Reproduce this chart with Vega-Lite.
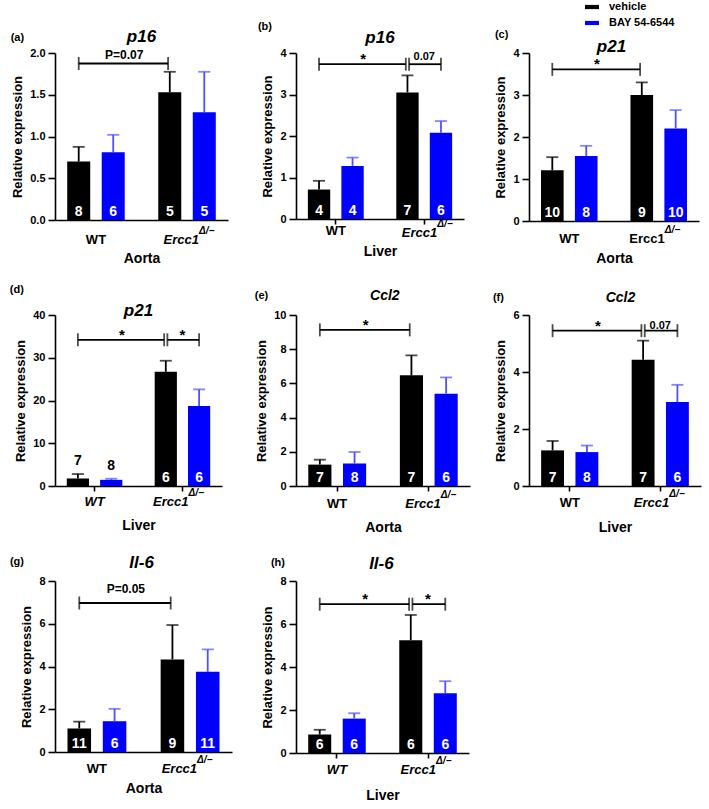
{
"$schema": "https://vega.github.io/schema/vega-lite/v6.json",
"padding": {"left": 9, "top": 0, "right": 3, "bottom": 3},
"columns": 3,
"spacing": {"row": 19, "column": 22},
"resolve": {"scale": {"x": "independent", "y": "independent", "xOffset": "independent"}},
"datasets": {
"bars": [
{"panel":"a","group":"WT","trt":"vehicle","mean":0.70,"hi":0.876,"n":8},
{"panel":"a","group":"WT","trt":"BAY 54-6544","mean":0.81,"hi":1.02,"n":6},
{"panel":"a","group":"Ercc1","trt":"vehicle","mean":1.53,"hi":1.775,"n":5},
{"panel":"a","group":"Ercc1","trt":"BAY 54-6544","mean":1.29,"hi":1.775,"n":5},
{"panel":"b","group":"WT","trt":"vehicle","mean":0.71,"hi":0.92,"n":4},
{"panel":"b","group":"WT","trt":"BAY 54-6544","mean":1.28,"hi":1.48,"n":4},
{"panel":"b","group":"Ercc1","trt":"vehicle","mean":3.05,"hi":3.46,"n":7},
{"panel":"b","group":"Ercc1","trt":"BAY 54-6544","mean":2.08,"hi":2.36,"n":6},
{"panel":"c","group":"WT","trt":"vehicle","mean":1.21,"hi":1.52,"n":10},
{"panel":"c","group":"WT","trt":"BAY 54-6544","mean":1.55,"hi":1.79,"n":8},
{"panel":"c","group":"Ercc1","trt":"vehicle","mean":3.0,"hi":3.3,"n":9},
{"panel":"c","group":"Ercc1","trt":"BAY 54-6544","mean":2.2,"hi":2.64,"n":10},
{"panel":"d","group":"WT","trt":"vehicle","mean":1.76,"hi":2.8,"n":7},
{"panel":"d","group":"WT","trt":"BAY 54-6544","mean":1.44,"hi":1.7,"n":8},
{"panel":"d","group":"Ercc1","trt":"vehicle","mean":26.7,"hi":29.3,"n":6},
{"panel":"d","group":"Ercc1","trt":"BAY 54-6544","mean":18.7,"hi":22.6,"n":6},
{"panel":"e","group":"WT","trt":"vehicle","mean":1.25,"hi":1.54,"n":7},
{"panel":"e","group":"WT","trt":"BAY 54-6544","mean":1.31,"hi":1.99,"n":8},
{"panel":"e","group":"Ercc1","trt":"vehicle","mean":6.47,"hi":7.64,"n":7},
{"panel":"e","group":"Ercc1","trt":"BAY 54-6544","mean":5.4,"hi":6.35,"n":6},
{"panel":"f","group":"WT","trt":"vehicle","mean":1.25,"hi":1.58,"n":7},
{"panel":"f","group":"WT","trt":"BAY 54-6544","mean":1.19,"hi":1.42,"n":8},
{"panel":"f","group":"Ercc1","trt":"vehicle","mean":4.43,"hi":5.1,"n":7},
{"panel":"f","group":"Ercc1","trt":"BAY 54-6544","mean":2.95,"hi":3.55,"n":6},
{"panel":"g","group":"WT","trt":"vehicle","mean":1.1,"hi":1.42,"n":11},
{"panel":"g","group":"WT","trt":"BAY 54-6544","mean":1.44,"hi":2.02,"n":6},
{"panel":"g","group":"Ercc1","trt":"vehicle","mean":4.33,"hi":5.94,"n":9},
{"panel":"g","group":"Ercc1","trt":"BAY 54-6544","mean":3.75,"hi":4.8,"n":11},
{"panel":"h","group":"WT","trt":"vehicle","mean":0.86,"hi":1.08,"n":6},
{"panel":"h","group":"WT","trt":"BAY 54-6544","mean":1.6,"hi":1.85,"n":6},
{"panel":"h","group":"Ercc1","trt":"vehicle","mean":5.25,"hi":6.42,"n":6},
{"panel":"h","group":"Ercc1","trt":"BAY 54-6544","mean":2.78,"hi":3.34,"n":6}
],
"brackets": [
{"panel":"a","type":"A","g1":"WT","g2":"Ercc1","y":1.874,"label":"P=0.07"},
{"panel":"b","type":"A","g1":"WT","g2":"Ercc1","y":3.73,"label":"*"},
{"panel":"b","type":"B","g1":"Ercc1","g2":"Ercc1","y":3.73,"label":"0.07"},
{"panel":"c","type":"A","g1":"WT","g2":"Ercc1","y":3.61,"label":"*"},
{"panel":"d","type":"A","g1":"WT","g2":"Ercc1","y":34.2,"label":"*"},
{"panel":"d","type":"B","g1":"Ercc1","g2":"Ercc1","y":34.2,"label":"*"},
{"panel":"e","type":"A","g1":"WT","g2":"Ercc1","y":9.13,"label":"*"},
{"panel":"f","type":"A","g1":"WT","g2":"Ercc1","y":5.45,"label":"*"},
{"panel":"f","type":"B","g1":"Ercc1","g2":"Ercc1","y":5.45,"label":"0.07"},
{"panel":"g","type":"A","g1":"WT","g2":"Ercc1","y":6.97,"label":"P=0.05"},
{"panel":"h","type":"A","g1":"WT","g2":"Ercc1","y":6.92,"label":"*"},
{"panel":"h","type":"B","g1":"Ercc1","g2":"Ercc1","y":6.92,"label":"*"}
]
},
"concat": [
{
"width": 173, "height": 167,
"title": {"text": "(a)", "anchor": "start", "frame": "bounds", "fontSize": 11, "dx": -1, "offset": -15},
"layer": [
{"data":{"name":"bars"},"transform":[{"filter":"datum.panel=='a'"}],"mark":{"type":"bar"},"encoding":{"x":{"field":"group","type":"nominal","scale":{"domain":["WT","Ercc1"],"paddingInner":0.2,"paddingOuter":0.05},"axis":{"title":"Aorta","titlePadding":31,"ticks":false}},"xOffset":{"field":"trt","type":"nominal","scale":{"domain":["vehicle","BAY 54-6544"],"paddingInner":0.333,"paddingOuter":0.222}},"y":{"field":"mean","type":"quantitative","scale":{"domain":[0,2],"nice":false},"axis":{"title":"Relative expression","values":[0,0.5,1,1.5,2],"tickCount":10,"format":".1f","labelOverlap":false}},"color":{"field":"trt","type":"nominal","scale":{"domain":["vehicle","BAY 54-6544"],"range":["#000000","#0000ff"]},"legend":{"title":null}}}},
{"data":{"name":"bars"},"transform":[{"filter":"datum.panel=='a'"}],"mark":{"type":"rule","strokeWidth":1.8},"encoding":{"x":{"field":"group","type":"nominal"},"xOffset":{"field":"trt","type":"nominal"},"y":{"field":"mean","type":"quantitative"},"y2":{"field":"hi"},"color":{"condition":{"test":"datum.trt=='vehicle'","value":"#000000"},"value":"#5050ff"}}},
{"data":{"name":"bars"},"transform":[{"filter":"datum.panel=='a'"}],"mark":{"type":"tick","thickness":1.8,"size":12},"encoding":{"x":{"field":"group","type":"nominal"},"xOffset":{"field":"trt","type":"nominal"},"y":{"field":"hi","type":"quantitative"},"color":{"condition":{"test":"datum.trt=='vehicle'","value":"#000000"},"value":"#5050ff"}}},
{"data":{"name":"bars"},"transform":[{"filter":"datum.panel=='a'"}],"mark":{"type":"text","color":"#ffffff","fontSize":14,"fontWeight":"bold","baseline":"alphabetic","dy":-4},"encoding":{"x":{"field":"group","type":"nominal"},"xOffset":{"field":"trt","type":"nominal"},"y":{"datum":0,"type":"quantitative"},"text":{"field":"n","type":"quantitative"}}},
{"data":{"name":"bars"},"transform":[{"filter":"datum.panel=='a' && datum.group=='WT' && datum.trt=='vehicle'"}],"mark":{"type":"text","fontSize":17,"fontWeight":"bold","fontStyle":"italic","baseline":"alphabetic","dy":-11},"encoding":{"x":{"field":"group","type":"nominal","bandPosition":1.125},"y":{"datum":2,"type":"quantitative"},"text":{"value":"p16"}}},
{"data":{"name":"bars"},"transform":[{"filter":"datum.panel=='a' && datum.group=='WT' && datum.trt=='vehicle'"}],"mark":{"type":"text","fontSize":13,"fontWeight":"bold","fontStyle":"normal","baseline":"middle","dy":20},"encoding":{"x":{"field":"group","type":"nominal"},"y":{"datum":0,"type":"quantitative"},"text":{"value":"WT"}}},
{"data":{"name":"bars"},"transform":[{"filter":"datum.panel=='a' && datum.group=='Ercc1' && datum.trt=='vehicle'"}],"mark":{"type":"text","fontSize":13,"fontWeight":"bold","fontStyle":"italic","baseline":"middle","align":"right","dx":12,"dy":20},"encoding":{"x":{"field":"group","type":"nominal"},"y":{"datum":0,"type":"quantitative"},"text":{"value":"Ercc1"}}},
{"data":{"name":"bars"},"transform":[{"filter":"datum.panel=='a' && datum.group=='Ercc1' && datum.trt=='vehicle'"}],"mark":{"type":"text","fontSize":10,"fontWeight":"bold","fontStyle":"italic","baseline":"middle","align":"left","dx":12,"dy":11},"encoding":{"x":{"field":"group","type":"nominal"},"y":{"datum":0,"type":"quantitative"},"text":{"value":"Δ/−"}}},
{"data":{"name":"brackets"},"transform":[{"filter":"datum.panel=='a' && datum.type=='A'"}],"mark":{"type":"rule","strokeWidth":1.8,"color":"#000000"},"encoding":{"x":{"field":"g1","type":"nominal","bandPosition":0.263},"x2":{"field":"g2","bandPosition":0.24},"y":{"field":"y","type":"quantitative"}}},
{"data":{"name":"brackets"},"transform":[{"filter":"datum.panel=='a' && datum.type=='A'"}],"mark":{"type":"tick","orient":"vertical","size":13,"thickness":1.8,"color":"#000000"},"encoding":{"x":{"field":"g1","type":"nominal","bandPosition":0.263},"y":{"field":"y","type":"quantitative"}}},
{"data":{"name":"brackets"},"transform":[{"filter":"datum.panel=='a' && datum.type=='A'"}],"mark":{"type":"tick","orient":"vertical","size":13,"thickness":1.8,"color":"#000000"},"encoding":{"x":{"field":"g2","type":"nominal","bandPosition":0.24},"y":{"field":"y","type":"quantitative"}}},
{"data":{"name":"brackets"},"transform":[{"filter":"datum.panel=='a' && datum.type=='A'"}],"mark":{"type":"text","fontSize":12,"fontWeight":"bold","baseline":"alphabetic","dy":-5},"encoding":{"x":{"field":"g1","type":"nominal","bandPosition":0.888},"y":{"field":"y","type":"quantitative"},"text":{"field":"label"}}}
]
},
{
"width": 168, "height": 166,
"title": {"text": "(b)", "anchor": "start", "frame": "bounds", "fontSize": 11, "dx": -4, "offset": -3},
"layer": [
{"data":{"name":"bars"},"transform":[{"filter":"datum.panel=='b'"}],"mark":{"type":"bar"},"encoding":{"x":{"field":"group","type":"nominal","scale":{"domain":["WT","Ercc1"],"paddingInner":0.2,"paddingOuter":0.05},"axis":{"title":"Liver","titlePadding":20,"ticks":true}},"xOffset":{"field":"trt","type":"nominal","scale":{"domain":["vehicle","BAY 54-6544"],"paddingInner":0.333,"paddingOuter":0.222}},"y":{"field":"mean","type":"quantitative","scale":{"domain":[0,4],"nice":false},"axis":{"title":"Relative expression","values":[0,1,2,3,4],"tickCount":10,"format":"d","labelOverlap":false}},"color":{"field":"trt","type":"nominal","scale":{"domain":["vehicle","BAY 54-6544"],"range":["#000000","#0000ff"]},"legend":{"title":null}}}},
{"data":{"name":"bars"},"transform":[{"filter":"datum.panel=='b'"}],"mark":{"type":"rule","strokeWidth":1.8},"encoding":{"x":{"field":"group","type":"nominal"},"xOffset":{"field":"trt","type":"nominal"},"y":{"field":"mean","type":"quantitative"},"y2":{"field":"hi"},"color":{"condition":{"test":"datum.trt=='vehicle'","value":"#000000"},"value":"#5050ff"}}},
{"data":{"name":"bars"},"transform":[{"filter":"datum.panel=='b'"}],"mark":{"type":"tick","thickness":1.8,"size":12},"encoding":{"x":{"field":"group","type":"nominal"},"xOffset":{"field":"trt","type":"nominal"},"y":{"field":"hi","type":"quantitative"},"color":{"condition":{"test":"datum.trt=='vehicle'","value":"#000000"},"value":"#5050ff"}}},
{"data":{"name":"bars"},"transform":[{"filter":"datum.panel=='b'"}],"mark":{"type":"text","color":"#ffffff","fontSize":14,"fontWeight":"bold","baseline":"alphabetic","dy":-4},"encoding":{"x":{"field":"group","type":"nominal"},"xOffset":{"field":"trt","type":"nominal"},"y":{"datum":0,"type":"quantitative"},"text":{"field":"n","type":"quantitative"}}},
{"data":{"name":"bars"},"transform":[{"filter":"datum.panel=='b' && datum.group=='WT' && datum.trt=='vehicle'"}],"mark":{"type":"text","fontSize":17,"fontWeight":"bold","fontStyle":"italic","baseline":"alphabetic","dy":-10},"encoding":{"x":{"field":"group","type":"nominal","bandPosition":1.125},"y":{"datum":4,"type":"quantitative"},"text":{"value":"p16"}}},
{"data":{"name":"bars"},"transform":[{"filter":"datum.panel=='b' && datum.group=='WT' && datum.trt=='vehicle'"}],"mark":{"type":"text","fontSize":13,"fontWeight":"bold","fontStyle":"normal","baseline":"middle","dy":12},"encoding":{"x":{"field":"group","type":"nominal"},"y":{"datum":0,"type":"quantitative"},"text":{"value":"WT"}}},
{"data":{"name":"bars"},"transform":[{"filter":"datum.panel=='b' && datum.group=='Ercc1' && datum.trt=='vehicle'"}],"mark":{"type":"text","fontSize":13,"fontWeight":"bold","fontStyle":"italic","baseline":"middle","align":"right","dx":13,"dy":14},"encoding":{"x":{"field":"group","type":"nominal"},"y":{"datum":0,"type":"quantitative"},"text":{"value":"Ercc1"}}},
{"data":{"name":"bars"},"transform":[{"filter":"datum.panel=='b' && datum.group=='Ercc1' && datum.trt=='vehicle'"}],"mark":{"type":"text","fontSize":10,"fontWeight":"bold","fontStyle":"italic","baseline":"middle","align":"left","dx":13,"dy":5},"encoding":{"x":{"field":"group","type":"nominal"},"y":{"datum":0,"type":"quantitative"},"text":{"value":"Δ/−"}}},
{"data":{"name":"brackets"},"transform":[{"filter":"datum.panel=='b' && datum.type=='A'"}],"mark":{"type":"rule","strokeWidth":1.8,"color":"#000000"},"encoding":{"x":{"field":"g1","type":"nominal","bandPosition":0.263},"x2":{"field":"g2","bandPosition":0.24},"y":{"field":"y","type":"quantitative"}}},
{"data":{"name":"brackets"},"transform":[{"filter":"datum.panel=='b' && datum.type=='A'"}],"mark":{"type":"tick","orient":"vertical","size":13,"thickness":1.8,"color":"#000000"},"encoding":{"x":{"field":"g1","type":"nominal","bandPosition":0.263},"y":{"field":"y","type":"quantitative"}}},
{"data":{"name":"brackets"},"transform":[{"filter":"datum.panel=='b' && datum.type=='A'"}],"mark":{"type":"tick","orient":"vertical","size":13,"thickness":1.8,"color":"#000000"},"encoding":{"x":{"field":"g2","type":"nominal","bandPosition":0.24},"y":{"field":"y","type":"quantitative"}}},
{"data":{"name":"brackets"},"transform":[{"filter":"datum.panel=='b' && datum.type=='A'"}],"mark":{"type":"text","fontSize":15,"fontWeight":"bold","baseline":"alphabetic","dy":0},"encoding":{"x":{"field":"g1","type":"nominal","bandPosition":0.888},"y":{"field":"y","type":"quantitative"},"text":{"field":"label"}}},
{"data":{"name":"brackets"},"transform":[{"filter":"datum.panel=='b' && datum.type=='B'"}],"mark":{"type":"rule","strokeWidth":1.8,"color":"#000000"},"encoding":{"x":{"field":"g1","type":"nominal","bandPosition":0.286},"x2":{"field":"g2","bandPosition":0.737},"y":{"field":"y","type":"quantitative"}}},
{"data":{"name":"brackets"},"transform":[{"filter":"datum.panel=='b' && datum.type=='B'"}],"mark":{"type":"tick","orient":"vertical","size":13,"thickness":1.8,"color":"#000000"},"encoding":{"x":{"field":"g1","type":"nominal","bandPosition":0.286},"y":{"field":"y","type":"quantitative"}}},
{"data":{"name":"brackets"},"transform":[{"filter":"datum.panel=='b' && datum.type=='B'"}],"mark":{"type":"tick","orient":"vertical","size":13,"thickness":1.8,"color":"#000000"},"encoding":{"x":{"field":"g2","type":"nominal","bandPosition":0.737},"y":{"field":"y","type":"quantitative"}}},
{"data":{"name":"brackets"},"transform":[{"filter":"datum.panel=='b' && datum.type=='B'"}],"mark":{"type":"text","fontSize":11,"fontWeight":"bold","baseline":"alphabetic","dy":-4},"encoding":{"x":{"field":"g1","type":"nominal","bandPosition":0.5},"y":{"field":"y","type":"quantitative"},"text":{"field":"label"}}}
]
},
{
"width": 170, "height": 168,
"title": {"text": "(c)", "anchor": "start", "frame": "bounds", "fontSize": 11, "dx": 0, "offset": -2},
"layer": [
{"data":{"name":"bars"},"transform":[{"filter":"datum.panel=='c'"}],"mark":{"type":"bar"},"encoding":{"x":{"field":"group","type":"nominal","scale":{"domain":["WT","Ercc1"],"paddingInner":0.2,"paddingOuter":0.05},"axis":{"title":"Aorta","titlePadding":30,"ticks":false}},"xOffset":{"field":"trt","type":"nominal","scale":{"domain":["vehicle","BAY 54-6544"],"paddingInner":0.333,"paddingOuter":0.222}},"y":{"field":"mean","type":"quantitative","scale":{"domain":[0,4],"nice":false},"axis":{"title":"Relative expression","values":[0,1,2,3,4],"tickCount":10,"format":"d","labelOverlap":false}},"color":{"field":"trt","type":"nominal","scale":{"domain":["vehicle","BAY 54-6544"],"range":["#000000","#0000ff"]},"legend":{"title":null}}}},
{"data":{"name":"bars"},"transform":[{"filter":"datum.panel=='c'"}],"mark":{"type":"rule","strokeWidth":1.8},"encoding":{"x":{"field":"group","type":"nominal"},"xOffset":{"field":"trt","type":"nominal"},"y":{"field":"mean","type":"quantitative"},"y2":{"field":"hi"},"color":{"condition":{"test":"datum.trt=='vehicle'","value":"#000000"},"value":"#5050ff"}}},
{"data":{"name":"bars"},"transform":[{"filter":"datum.panel=='c'"}],"mark":{"type":"tick","thickness":1.8,"size":12},"encoding":{"x":{"field":"group","type":"nominal"},"xOffset":{"field":"trt","type":"nominal"},"y":{"field":"hi","type":"quantitative"},"color":{"condition":{"test":"datum.trt=='vehicle'","value":"#000000"},"value":"#5050ff"}}},
{"data":{"name":"bars"},"transform":[{"filter":"datum.panel=='c'"}],"mark":{"type":"text","color":"#ffffff","fontSize":14,"fontWeight":"bold","baseline":"alphabetic","dy":-4},"encoding":{"x":{"field":"group","type":"nominal"},"xOffset":{"field":"trt","type":"nominal"},"y":{"datum":0,"type":"quantitative"},"text":{"field":"n","type":"quantitative"}}},
{"data":{"name":"bars"},"transform":[{"filter":"datum.panel=='c' && datum.group=='WT' && datum.trt=='vehicle'"}],"mark":{"type":"text","fontSize":17,"fontWeight":"bold","fontStyle":"italic","baseline":"alphabetic","dy":-1},"encoding":{"x":{"field":"group","type":"nominal","bandPosition":1.09},"y":{"datum":4,"type":"quantitative"},"text":{"value":"p21"}}},
{"data":{"name":"bars"},"transform":[{"filter":"datum.panel=='c' && datum.group=='WT' && datum.trt=='vehicle'"}],"mark":{"type":"text","fontSize":13,"fontWeight":"bold","fontStyle":"normal","baseline":"middle","dy":18},"encoding":{"x":{"field":"group","type":"nominal"},"y":{"datum":0,"type":"quantitative"},"text":{"value":"WT"}}},
{"data":{"name":"bars"},"transform":[{"filter":"datum.panel=='c' && datum.group=='Ercc1' && datum.trt=='vehicle'"}],"mark":{"type":"text","fontSize":13,"fontWeight":"bold","fontStyle":"normal","baseline":"middle","align":"right","dx":6,"dy":18},"encoding":{"x":{"field":"group","type":"nominal"},"y":{"datum":0,"type":"quantitative"},"text":{"value":"Ercc1"}}},
{"data":{"name":"bars"},"transform":[{"filter":"datum.panel=='c' && datum.group=='Ercc1' && datum.trt=='vehicle'"}],"mark":{"type":"text","fontSize":10,"fontWeight":"bold","fontStyle":"italic","baseline":"middle","align":"left","dx":6,"dy":9},"encoding":{"x":{"field":"group","type":"nominal"},"y":{"datum":0,"type":"quantitative"},"text":{"value":"Δ/−"}}},
{"data":{"name":"brackets"},"transform":[{"filter":"datum.panel=='c' && datum.type=='A'"}],"mark":{"type":"rule","strokeWidth":1.8,"color":"#000000"},"encoding":{"x":{"field":"g1","type":"nominal","bandPosition":0.263},"x2":{"field":"g2","bandPosition":0.24},"y":{"field":"y","type":"quantitative"}}},
{"data":{"name":"brackets"},"transform":[{"filter":"datum.panel=='c' && datum.type=='A'"}],"mark":{"type":"tick","orient":"vertical","size":13,"thickness":1.8,"color":"#000000"},"encoding":{"x":{"field":"g1","type":"nominal","bandPosition":0.263},"y":{"field":"y","type":"quantitative"}}},
{"data":{"name":"brackets"},"transform":[{"filter":"datum.panel=='c' && datum.type=='A'"}],"mark":{"type":"tick","orient":"vertical","size":13,"thickness":1.8,"color":"#000000"},"encoding":{"x":{"field":"g2","type":"nominal","bandPosition":0.24},"y":{"field":"y","type":"quantitative"}}},
{"data":{"name":"brackets"},"transform":[{"filter":"datum.panel=='c' && datum.type=='A'"}],"mark":{"type":"text","fontSize":15,"fontWeight":"bold","baseline":"alphabetic","dy":0},"encoding":{"x":{"field":"g1","type":"nominal","bandPosition":0.888},"y":{"field":"y","type":"quantitative"},"text":{"field":"label"}}}
]
},
{
"width": 167, "height": 171,
"title": {"text": "(d)", "anchor": "start", "frame": "bounds", "fontSize": 11, "dx": -5, "offset": 7},
"layer": [
{"data":{"name":"bars"},"transform":[{"filter":"datum.panel=='d'"}],"mark":{"type":"bar"},"encoding":{"x":{"field":"group","type":"nominal","scale":{"domain":["WT","Ercc1"],"paddingInner":0.2,"paddingOuter":0.05},"axis":{"title":"Liver","titlePadding":27,"ticks":true}},"xOffset":{"field":"trt","type":"nominal","scale":{"domain":["vehicle","BAY 54-6544"],"paddingInner":0.333,"paddingOuter":0.222}},"y":{"field":"mean","type":"quantitative","scale":{"domain":[0,40],"nice":false},"axis":{"title":"Relative expression","values":[0,10,20,30,40],"tickCount":10,"format":"d","labelOverlap":false}},"color":{"field":"trt","type":"nominal","scale":{"domain":["vehicle","BAY 54-6544"],"range":["#000000","#0000ff"]},"legend":{"title":null}}}},
{"data":{"name":"bars"},"transform":[{"filter":"datum.panel=='d'"}],"mark":{"type":"rule","strokeWidth":1.8},"encoding":{"x":{"field":"group","type":"nominal"},"xOffset":{"field":"trt","type":"nominal"},"y":{"field":"mean","type":"quantitative"},"y2":{"field":"hi"},"color":{"condition":{"test":"datum.trt=='vehicle'","value":"#000000"},"value":"#5050ff"}}},
{"data":{"name":"bars"},"transform":[{"filter":"datum.panel=='d'"}],"mark":{"type":"tick","thickness":1.8,"size":12},"encoding":{"x":{"field":"group","type":"nominal"},"xOffset":{"field":"trt","type":"nominal"},"y":{"field":"hi","type":"quantitative"},"color":{"condition":{"test":"datum.trt=='vehicle'","value":"#000000"},"value":"#5050ff"}}},
{"data":{"name":"bars"},"transform":[{"filter":"datum.panel=='d' && datum.group=='Ercc1'"}],"mark":{"type":"text","color":"#ffffff","fontSize":14,"fontWeight":"bold","baseline":"alphabetic","dy":-4},"encoding":{"x":{"field":"group","type":"nominal"},"xOffset":{"field":"trt","type":"nominal"},"y":{"datum":0,"type":"quantitative"},"text":{"field":"n","type":"quantitative"}}},
{"data":{"name":"bars"},"transform":[{"filter":"datum.panel=='d' && datum.group=='WT'"}],"mark":{"type":"text","color":"#000000","fontSize":14,"fontWeight":"bold","baseline":"alphabetic","dy":-9},"encoding":{"x":{"field":"group","type":"nominal"},"xOffset":{"field":"trt","type":"nominal"},"y":{"field":"hi","type":"quantitative"},"text":{"field":"n","type":"quantitative"}}},
{"data":{"name":"bars"},"transform":[{"filter":"datum.panel=='d' && datum.group=='WT' && datum.trt=='vehicle'"}],"mark":{"type":"text","fontSize":17,"fontWeight":"bold","fontStyle":"italic","baseline":"alphabetic","dy":1},"encoding":{"x":{"field":"group","type":"nominal","bandPosition":1.125},"y":{"datum":40,"type":"quantitative"},"text":{"value":"p21"}}},
{"data":{"name":"bars"},"transform":[{"filter":"datum.panel=='d' && datum.group=='WT' && datum.trt=='vehicle'"}],"mark":{"type":"text","fontSize":13,"fontWeight":"bold","fontStyle":"italic","baseline":"middle","dy":16},"encoding":{"x":{"field":"group","type":"nominal"},"y":{"datum":0,"type":"quantitative"},"text":{"value":"WT"}}},
{"data":{"name":"bars"},"transform":[{"filter":"datum.panel=='d' && datum.group=='Ercc1' && datum.trt=='vehicle'"}],"mark":{"type":"text","fontSize":13,"fontWeight":"bold","fontStyle":"italic","baseline":"middle","align":"right","dx":6,"dy":16},"encoding":{"x":{"field":"group","type":"nominal"},"y":{"datum":0,"type":"quantitative"},"text":{"value":"Ercc1"}}},
{"data":{"name":"bars"},"transform":[{"filter":"datum.panel=='d' && datum.group=='Ercc1' && datum.trt=='vehicle'"}],"mark":{"type":"text","fontSize":10,"fontWeight":"bold","fontStyle":"italic","baseline":"middle","align":"left","dx":6,"dy":7},"encoding":{"x":{"field":"group","type":"nominal"},"y":{"datum":0,"type":"quantitative"},"text":{"value":"Δ/−"}}},
{"data":{"name":"brackets"},"transform":[{"filter":"datum.panel=='d' && datum.type=='A'"}],"mark":{"type":"rule","strokeWidth":1.8,"color":"#000000"},"encoding":{"x":{"field":"g1","type":"nominal","bandPosition":0.263},"x2":{"field":"g2","bandPosition":0.24},"y":{"field":"y","type":"quantitative"}}},
{"data":{"name":"brackets"},"transform":[{"filter":"datum.panel=='d' && datum.type=='A'"}],"mark":{"type":"tick","orient":"vertical","size":13,"thickness":1.8,"color":"#000000"},"encoding":{"x":{"field":"g1","type":"nominal","bandPosition":0.263},"y":{"field":"y","type":"quantitative"}}},
{"data":{"name":"brackets"},"transform":[{"filter":"datum.panel=='d' && datum.type=='A'"}],"mark":{"type":"tick","orient":"vertical","size":13,"thickness":1.8,"color":"#000000"},"encoding":{"x":{"field":"g2","type":"nominal","bandPosition":0.24},"y":{"field":"y","type":"quantitative"}}},
{"data":{"name":"brackets"},"transform":[{"filter":"datum.panel=='d' && datum.type=='A'"}],"mark":{"type":"text","fontSize":15,"fontWeight":"bold","baseline":"alphabetic","dy":0},"encoding":{"x":{"field":"g1","type":"nominal","bandPosition":0.888},"y":{"field":"y","type":"quantitative"},"text":{"field":"label"}}},
{"data":{"name":"brackets"},"transform":[{"filter":"datum.panel=='d' && datum.type=='B'"}],"mark":{"type":"rule","strokeWidth":1.8,"color":"#000000"},"encoding":{"x":{"field":"g1","type":"nominal","bandPosition":0.286},"x2":{"field":"g2","bandPosition":0.737},"y":{"field":"y","type":"quantitative"}}},
{"data":{"name":"brackets"},"transform":[{"filter":"datum.panel=='d' && datum.type=='B'"}],"mark":{"type":"tick","orient":"vertical","size":13,"thickness":1.8,"color":"#000000"},"encoding":{"x":{"field":"g1","type":"nominal","bandPosition":0.286},"y":{"field":"y","type":"quantitative"}}},
{"data":{"name":"brackets"},"transform":[{"filter":"datum.panel=='d' && datum.type=='B'"}],"mark":{"type":"tick","orient":"vertical","size":13,"thickness":1.8,"color":"#000000"},"encoding":{"x":{"field":"g2","type":"nominal","bandPosition":0.737},"y":{"field":"y","type":"quantitative"}}},
{"data":{"name":"brackets"},"transform":[{"filter":"datum.panel=='d' && datum.type=='B'"}],"mark":{"type":"text","fontSize":15,"fontWeight":"bold","baseline":"alphabetic","dy":0},"encoding":{"x":{"field":"g1","type":"nominal","bandPosition":0.5},"y":{"field":"y","type":"quantitative"},"text":{"field":"label"}}}
]
},
{
"width": 174, "height": 171,
"title": {"text": "(e)", "anchor": "start", "frame": "bounds", "fontSize": 11, "dx": -1, "offset": -12},
"layer": [
{"data":{"name":"bars"},"transform":[{"filter":"datum.panel=='e'"}],"mark":{"type":"bar"},"encoding":{"x":{"field":"group","type":"nominal","scale":{"domain":["WT","Ercc1"],"paddingInner":0.2,"paddingOuter":0.05},"axis":{"title":"Aorta","titlePadding":29,"ticks":true}},"xOffset":{"field":"trt","type":"nominal","scale":{"domain":["vehicle","BAY 54-6544"],"paddingInner":0.333,"paddingOuter":0.222}},"y":{"field":"mean","type":"quantitative","scale":{"domain":[0,10],"nice":false},"axis":{"title":"Relative expression","values":[0,2,4,6,8,10],"tickCount":10,"format":"d","labelOverlap":false}},"color":{"field":"trt","type":"nominal","scale":{"domain":["vehicle","BAY 54-6544"],"range":["#000000","#0000ff"]},"legend":{"title":null}}}},
{"data":{"name":"bars"},"transform":[{"filter":"datum.panel=='e'"}],"mark":{"type":"rule","strokeWidth":1.8},"encoding":{"x":{"field":"group","type":"nominal"},"xOffset":{"field":"trt","type":"nominal"},"y":{"field":"mean","type":"quantitative"},"y2":{"field":"hi"},"color":{"condition":{"test":"datum.trt=='vehicle'","value":"#000000"},"value":"#5050ff"}}},
{"data":{"name":"bars"},"transform":[{"filter":"datum.panel=='e'"}],"mark":{"type":"tick","thickness":1.8,"size":12},"encoding":{"x":{"field":"group","type":"nominal"},"xOffset":{"field":"trt","type":"nominal"},"y":{"field":"hi","type":"quantitative"},"color":{"condition":{"test":"datum.trt=='vehicle'","value":"#000000"},"value":"#5050ff"}}},
{"data":{"name":"bars"},"transform":[{"filter":"datum.panel=='e'"}],"mark":{"type":"text","color":"#ffffff","fontSize":14,"fontWeight":"bold","baseline":"alphabetic","dy":-4},"encoding":{"x":{"field":"group","type":"nominal"},"xOffset":{"field":"trt","type":"nominal"},"y":{"datum":0,"type":"quantitative"},"text":{"field":"n","type":"quantitative"}}},
{"data":{"name":"bars"},"transform":[{"filter":"datum.panel=='e' && datum.group=='WT' && datum.trt=='vehicle'"}],"mark":{"type":"text","fontSize":14,"fontWeight":"bold","fontStyle":"italic","baseline":"alphabetic","dy":-15},"encoding":{"x":{"field":"group","type":"nominal","bandPosition":1.15},"y":{"datum":10,"type":"quantitative"},"text":{"value":"Ccl2"}}},
{"data":{"name":"bars"},"transform":[{"filter":"datum.panel=='e' && datum.group=='WT' && datum.trt=='vehicle'"}],"mark":{"type":"text","fontSize":13,"fontWeight":"bold","fontStyle":"normal","baseline":"middle","dy":18},"encoding":{"x":{"field":"group","type":"nominal"},"y":{"datum":0,"type":"quantitative"},"text":{"value":"WT"}}},
{"data":{"name":"bars"},"transform":[{"filter":"datum.panel=='e' && datum.group=='Ercc1' && datum.trt=='vehicle'"}],"mark":{"type":"text","fontSize":13,"fontWeight":"bold","fontStyle":"italic","baseline":"middle","align":"right","dx":12,"dy":18},"encoding":{"x":{"field":"group","type":"nominal"},"y":{"datum":0,"type":"quantitative"},"text":{"value":"Ercc1"}}},
{"data":{"name":"bars"},"transform":[{"filter":"datum.panel=='e' && datum.group=='Ercc1' && datum.trt=='vehicle'"}],"mark":{"type":"text","fontSize":10,"fontWeight":"bold","fontStyle":"italic","baseline":"middle","align":"left","dx":12,"dy":9},"encoding":{"x":{"field":"group","type":"nominal"},"y":{"datum":0,"type":"quantitative"},"text":{"value":"Δ/−"}}},
{"data":{"name":"brackets"},"transform":[{"filter":"datum.panel=='e' && datum.type=='A'"}],"mark":{"type":"rule","strokeWidth":1.8,"color":"#000000"},"encoding":{"x":{"field":"g1","type":"nominal","bandPosition":0.263},"x2":{"field":"g2","bandPosition":0.24},"y":{"field":"y","type":"quantitative"}}},
{"data":{"name":"brackets"},"transform":[{"filter":"datum.panel=='e' && datum.type=='A'"}],"mark":{"type":"tick","orient":"vertical","size":13,"thickness":1.8,"color":"#000000"},"encoding":{"x":{"field":"g1","type":"nominal","bandPosition":0.263},"y":{"field":"y","type":"quantitative"}}},
{"data":{"name":"brackets"},"transform":[{"filter":"datum.panel=='e' && datum.type=='A'"}],"mark":{"type":"tick","orient":"vertical","size":13,"thickness":1.8,"color":"#000000"},"encoding":{"x":{"field":"g2","type":"nominal","bandPosition":0.24},"y":{"field":"y","type":"quantitative"}}},
{"data":{"name":"brackets"},"transform":[{"filter":"datum.panel=='e' && datum.type=='A'"}],"mark":{"type":"text","fontSize":15,"fontWeight":"bold","baseline":"alphabetic","dy":0},"encoding":{"x":{"field":"g1","type":"nominal","bandPosition":0.888},"y":{"field":"y","type":"quantitative"},"text":{"field":"label"}}}
]
},
{
"width": 172, "height": 171,
"title": {"text": "(f)", "anchor": "start", "frame": "bounds", "fontSize": 11, "dx": -2, "offset": -12},
"layer": [
{"data":{"name":"bars"},"transform":[{"filter":"datum.panel=='f'"}],"mark":{"type":"bar"},"encoding":{"x":{"field":"group","type":"nominal","scale":{"domain":["WT","Ercc1"],"paddingInner":0.2,"paddingOuter":0.05},"axis":{"title":"Liver","titlePadding":29,"ticks":true}},"xOffset":{"field":"trt","type":"nominal","scale":{"domain":["vehicle","BAY 54-6544"],"paddingInner":0.333,"paddingOuter":0.222}},"y":{"field":"mean","type":"quantitative","scale":{"domain":[0,6],"nice":false},"axis":{"title":"Relative expression","values":[0,2,4,6],"tickCount":10,"format":"d","labelOverlap":false}},"color":{"field":"trt","type":"nominal","scale":{"domain":["vehicle","BAY 54-6544"],"range":["#000000","#0000ff"]},"legend":{"title":null}}}},
{"data":{"name":"bars"},"transform":[{"filter":"datum.panel=='f'"}],"mark":{"type":"rule","strokeWidth":1.8},"encoding":{"x":{"field":"group","type":"nominal"},"xOffset":{"field":"trt","type":"nominal"},"y":{"field":"mean","type":"quantitative"},"y2":{"field":"hi"},"color":{"condition":{"test":"datum.trt=='vehicle'","value":"#000000"},"value":"#5050ff"}}},
{"data":{"name":"bars"},"transform":[{"filter":"datum.panel=='f'"}],"mark":{"type":"tick","thickness":1.8,"size":12},"encoding":{"x":{"field":"group","type":"nominal"},"xOffset":{"field":"trt","type":"nominal"},"y":{"field":"hi","type":"quantitative"},"color":{"condition":{"test":"datum.trt=='vehicle'","value":"#000000"},"value":"#5050ff"}}},
{"data":{"name":"bars"},"transform":[{"filter":"datum.panel=='f'"}],"mark":{"type":"text","color":"#ffffff","fontSize":14,"fontWeight":"bold","baseline":"alphabetic","dy":-4},"encoding":{"x":{"field":"group","type":"nominal"},"xOffset":{"field":"trt","type":"nominal"},"y":{"datum":0,"type":"quantitative"},"text":{"field":"n","type":"quantitative"}}},
{"data":{"name":"bars"},"transform":[{"filter":"datum.panel=='f' && datum.group=='WT' && datum.trt=='vehicle'"}],"mark":{"type":"text","fontSize":14,"fontWeight":"bold","fontStyle":"italic","baseline":"alphabetic","dy":-13},"encoding":{"x":{"field":"group","type":"nominal","bandPosition":1.2},"y":{"datum":6,"type":"quantitative"},"text":{"value":"Ccl2"}}},
{"data":{"name":"bars"},"transform":[{"filter":"datum.panel=='f' && datum.group=='WT' && datum.trt=='vehicle'"}],"mark":{"type":"text","fontSize":13,"fontWeight":"bold","fontStyle":"normal","baseline":"middle","dy":17},"encoding":{"x":{"field":"group","type":"nominal"},"y":{"datum":0,"type":"quantitative"},"text":{"value":"WT"}}},
{"data":{"name":"bars"},"transform":[{"filter":"datum.panel=='f' && datum.group=='Ercc1' && datum.trt=='vehicle'"}],"mark":{"type":"text","fontSize":13,"fontWeight":"bold","fontStyle":"italic","baseline":"middle","align":"right","dx":9,"dy":17},"encoding":{"x":{"field":"group","type":"nominal"},"y":{"datum":0,"type":"quantitative"},"text":{"value":"Ercc1"}}},
{"data":{"name":"bars"},"transform":[{"filter":"datum.panel=='f' && datum.group=='Ercc1' && datum.trt=='vehicle'"}],"mark":{"type":"text","fontSize":10,"fontWeight":"bold","fontStyle":"italic","baseline":"middle","align":"left","dx":9,"dy":8},"encoding":{"x":{"field":"group","type":"nominal"},"y":{"datum":0,"type":"quantitative"},"text":{"value":"Δ/−"}}},
{"data":{"name":"brackets"},"transform":[{"filter":"datum.panel=='f' && datum.type=='A'"}],"mark":{"type":"rule","strokeWidth":1.8,"color":"#000000"},"encoding":{"x":{"field":"g1","type":"nominal","bandPosition":0.263},"x2":{"field":"g2","bandPosition":0.24},"y":{"field":"y","type":"quantitative"}}},
{"data":{"name":"brackets"},"transform":[{"filter":"datum.panel=='f' && datum.type=='A'"}],"mark":{"type":"tick","orient":"vertical","size":13,"thickness":1.8,"color":"#000000"},"encoding":{"x":{"field":"g1","type":"nominal","bandPosition":0.263},"y":{"field":"y","type":"quantitative"}}},
{"data":{"name":"brackets"},"transform":[{"filter":"datum.panel=='f' && datum.type=='A'"}],"mark":{"type":"tick","orient":"vertical","size":13,"thickness":1.8,"color":"#000000"},"encoding":{"x":{"field":"g2","type":"nominal","bandPosition":0.24},"y":{"field":"y","type":"quantitative"}}},
{"data":{"name":"brackets"},"transform":[{"filter":"datum.panel=='f' && datum.type=='A'"}],"mark":{"type":"text","fontSize":15,"fontWeight":"bold","baseline":"alphabetic","dy":0},"encoding":{"x":{"field":"g1","type":"nominal","bandPosition":0.888},"y":{"field":"y","type":"quantitative"},"text":{"field":"label"}}},
{"data":{"name":"brackets"},"transform":[{"filter":"datum.panel=='f' && datum.type=='B'"}],"mark":{"type":"rule","strokeWidth":1.8,"color":"#000000"},"encoding":{"x":{"field":"g1","type":"nominal","bandPosition":0.286},"x2":{"field":"g2","bandPosition":0.737},"y":{"field":"y","type":"quantitative"}}},
{"data":{"name":"brackets"},"transform":[{"filter":"datum.panel=='f' && datum.type=='B'"}],"mark":{"type":"tick","orient":"vertical","size":13,"thickness":1.8,"color":"#000000"},"encoding":{"x":{"field":"g1","type":"nominal","bandPosition":0.286},"y":{"field":"y","type":"quantitative"}}},
{"data":{"name":"brackets"},"transform":[{"filter":"datum.panel=='f' && datum.type=='B'"}],"mark":{"type":"tick","orient":"vertical","size":13,"thickness":1.8,"color":"#000000"},"encoding":{"x":{"field":"g2","type":"nominal","bandPosition":0.737},"y":{"field":"y","type":"quantitative"}}},
{"data":{"name":"brackets"},"transform":[{"filter":"datum.panel=='f' && datum.type=='B'"}],"mark":{"type":"text","fontSize":11,"fontWeight":"bold","baseline":"alphabetic","dy":-2},"encoding":{"x":{"field":"g1","type":"nominal","bandPosition":0.5},"y":{"field":"y","type":"quantitative"},"text":{"field":"label"}}}
]
},
{
"width": 177, "height": 171,
"title": {"text": "(g)", "anchor": "start", "frame": "bounds", "fontSize": 11, "dx": -11, "offset": -13},
"layer": [
{"data":{"name":"bars"},"transform":[{"filter":"datum.panel=='g'"}],"mark":{"type":"bar"},"encoding":{"x":{"field":"group","type":"nominal","scale":{"domain":["WT","Ercc1"],"paddingInner":0.2,"paddingOuter":0.05},"axis":{"title":"Aorta","titlePadding":29,"ticks":false}},"xOffset":{"field":"trt","type":"nominal","scale":{"domain":["vehicle","BAY 54-6544"],"paddingInner":0.333,"paddingOuter":0.222}},"y":{"field":"mean","type":"quantitative","scale":{"domain":[0,8],"nice":false},"axis":{"title":"Relative expression","values":[0,2,4,6,8],"tickCount":10,"format":"d","labelOverlap":false}},"color":{"field":"trt","type":"nominal","scale":{"domain":["vehicle","BAY 54-6544"],"range":["#000000","#0000ff"]},"legend":{"title":null}}}},
{"data":{"name":"bars"},"transform":[{"filter":"datum.panel=='g'"}],"mark":{"type":"rule","strokeWidth":1.8},"encoding":{"x":{"field":"group","type":"nominal"},"xOffset":{"field":"trt","type":"nominal"},"y":{"field":"mean","type":"quantitative"},"y2":{"field":"hi"},"color":{"condition":{"test":"datum.trt=='vehicle'","value":"#000000"},"value":"#5050ff"}}},
{"data":{"name":"bars"},"transform":[{"filter":"datum.panel=='g'"}],"mark":{"type":"tick","thickness":1.8,"size":12},"encoding":{"x":{"field":"group","type":"nominal"},"xOffset":{"field":"trt","type":"nominal"},"y":{"field":"hi","type":"quantitative"},"color":{"condition":{"test":"datum.trt=='vehicle'","value":"#000000"},"value":"#5050ff"}}},
{"data":{"name":"bars"},"transform":[{"filter":"datum.panel=='g'"}],"mark":{"type":"text","color":"#ffffff","fontSize":14,"fontWeight":"bold","baseline":"alphabetic","dy":-4},"encoding":{"x":{"field":"group","type":"nominal"},"xOffset":{"field":"trt","type":"nominal"},"y":{"datum":0,"type":"quantitative"},"text":{"field":"n","type":"quantitative"}}},
{"data":{"name":"bars"},"transform":[{"filter":"datum.panel=='g' && datum.group=='WT' && datum.trt=='vehicle'"}],"mark":{"type":"text","fontSize":17,"fontWeight":"bold","fontStyle":"italic","baseline":"alphabetic","dy":-13},"encoding":{"x":{"field":"group","type":"nominal","bandPosition":1.1},"y":{"datum":8,"type":"quantitative"},"text":{"value":"Il-6"}}},
{"data":{"name":"bars"},"transform":[{"filter":"datum.panel=='g' && datum.group=='WT' && datum.trt=='vehicle'"}],"mark":{"type":"text","fontSize":13,"fontWeight":"bold","fontStyle":"normal","baseline":"middle","dy":17},"encoding":{"x":{"field":"group","type":"nominal"},"y":{"datum":0,"type":"quantitative"},"text":{"value":"WT"}}},
{"data":{"name":"bars"},"transform":[{"filter":"datum.panel=='g' && datum.group=='Ercc1' && datum.trt=='vehicle'"}],"mark":{"type":"text","fontSize":13,"fontWeight":"bold","fontStyle":"italic","baseline":"middle","align":"right","dx":7,"dy":17},"encoding":{"x":{"field":"group","type":"nominal"},"y":{"datum":0,"type":"quantitative"},"text":{"value":"Ercc1"}}},
{"data":{"name":"bars"},"transform":[{"filter":"datum.panel=='g' && datum.group=='Ercc1' && datum.trt=='vehicle'"}],"mark":{"type":"text","fontSize":10,"fontWeight":"bold","fontStyle":"italic","baseline":"middle","align":"left","dx":7,"dy":8},"encoding":{"x":{"field":"group","type":"nominal"},"y":{"datum":0,"type":"quantitative"},"text":{"value":"Δ/−"}}},
{"data":{"name":"brackets"},"transform":[{"filter":"datum.panel=='g' && datum.type=='A'"}],"mark":{"type":"rule","strokeWidth":1.8,"color":"#000000"},"encoding":{"x":{"field":"g1","type":"nominal","bandPosition":0.263},"x2":{"field":"g2","bandPosition":0.24},"y":{"field":"y","type":"quantitative"}}},
{"data":{"name":"brackets"},"transform":[{"filter":"datum.panel=='g' && datum.type=='A'"}],"mark":{"type":"tick","orient":"vertical","size":13,"thickness":1.8,"color":"#000000"},"encoding":{"x":{"field":"g1","type":"nominal","bandPosition":0.263},"y":{"field":"y","type":"quantitative"}}},
{"data":{"name":"brackets"},"transform":[{"filter":"datum.panel=='g' && datum.type=='A'"}],"mark":{"type":"tick","orient":"vertical","size":13,"thickness":1.8,"color":"#000000"},"encoding":{"x":{"field":"g2","type":"nominal","bandPosition":0.24},"y":{"field":"y","type":"quantitative"}}},
{"data":{"name":"brackets"},"transform":[{"filter":"datum.panel=='g' && datum.type=='A'"}],"mark":{"type":"text","fontSize":12,"fontWeight":"bold","baseline":"alphabetic","dy":-10},"encoding":{"x":{"field":"g1","type":"nominal","bandPosition":0.888},"y":{"field":"y","type":"quantitative"},"text":{"field":"label"}}}
]
},
{
"width": 173, "height": 172,
"title": {"text": "(h)", "anchor": "start", "frame": "bounds", "fontSize": 11, "dx": 9, "offset": -13},
"layer": [
{"data":{"name":"bars"},"transform":[{"filter":"datum.panel=='h'"}],"mark":{"type":"bar"},"encoding":{"x":{"field":"group","type":"nominal","scale":{"domain":["WT","Ercc1"],"paddingInner":0.2,"paddingOuter":0.05},"axis":{"title":"Liver","titlePadding":30,"ticks":true}},"xOffset":{"field":"trt","type":"nominal","scale":{"domain":["vehicle","BAY 54-6544"],"paddingInner":0.333,"paddingOuter":0.222}},"y":{"field":"mean","type":"quantitative","scale":{"domain":[0,8],"nice":false},"axis":{"title":"Relative expression","values":[0,2,4,6,8],"tickCount":10,"format":"d","labelOverlap":false}},"color":{"field":"trt","type":"nominal","scale":{"domain":["vehicle","BAY 54-6544"],"range":["#000000","#0000ff"]},"legend":{"title":null}}}},
{"data":{"name":"bars"},"transform":[{"filter":"datum.panel=='h'"}],"mark":{"type":"rule","strokeWidth":1.8},"encoding":{"x":{"field":"group","type":"nominal"},"xOffset":{"field":"trt","type":"nominal"},"y":{"field":"mean","type":"quantitative"},"y2":{"field":"hi"},"color":{"condition":{"test":"datum.trt=='vehicle'","value":"#000000"},"value":"#5050ff"}}},
{"data":{"name":"bars"},"transform":[{"filter":"datum.panel=='h'"}],"mark":{"type":"tick","thickness":1.8,"size":12},"encoding":{"x":{"field":"group","type":"nominal"},"xOffset":{"field":"trt","type":"nominal"},"y":{"field":"hi","type":"quantitative"},"color":{"condition":{"test":"datum.trt=='vehicle'","value":"#000000"},"value":"#5050ff"}}},
{"data":{"name":"bars"},"transform":[{"filter":"datum.panel=='h'"}],"mark":{"type":"text","color":"#ffffff","fontSize":14,"fontWeight":"bold","baseline":"alphabetic","dy":-4},"encoding":{"x":{"field":"group","type":"nominal"},"xOffset":{"field":"trt","type":"nominal"},"y":{"datum":0,"type":"quantitative"},"text":{"field":"n","type":"quantitative"}}},
{"data":{"name":"bars"},"transform":[{"filter":"datum.panel=='h' && datum.group=='WT' && datum.trt=='vehicle'"}],"mark":{"type":"text","fontSize":17,"fontWeight":"bold","fontStyle":"italic","baseline":"alphabetic","dy":-12},"encoding":{"x":{"field":"group","type":"nominal","bandPosition":1.11},"y":{"datum":8,"type":"quantitative"},"text":{"value":"Il-6"}}},
{"data":{"name":"bars"},"transform":[{"filter":"datum.panel=='h' && datum.group=='WT' && datum.trt=='vehicle'"}],"mark":{"type":"text","fontSize":13,"fontWeight":"bold","fontStyle":"italic","baseline":"middle","dy":17},"encoding":{"x":{"field":"group","type":"nominal"},"y":{"datum":0,"type":"quantitative"},"text":{"value":"WT"}}},
{"data":{"name":"bars"},"transform":[{"filter":"datum.panel=='h' && datum.group=='Ercc1' && datum.trt=='vehicle'"}],"mark":{"type":"text","fontSize":13,"fontWeight":"bold","fontStyle":"italic","baseline":"middle","align":"right","dx":8,"dy":17},"encoding":{"x":{"field":"group","type":"nominal"},"y":{"datum":0,"type":"quantitative"},"text":{"value":"Ercc1"}}},
{"data":{"name":"bars"},"transform":[{"filter":"datum.panel=='h' && datum.group=='Ercc1' && datum.trt=='vehicle'"}],"mark":{"type":"text","fontSize":10,"fontWeight":"bold","fontStyle":"italic","baseline":"middle","align":"left","dx":8,"dy":8},"encoding":{"x":{"field":"group","type":"nominal"},"y":{"datum":0,"type":"quantitative"},"text":{"value":"Δ/−"}}},
{"data":{"name":"brackets"},"transform":[{"filter":"datum.panel=='h' && datum.type=='A'"}],"mark":{"type":"rule","strokeWidth":1.8,"color":"#000000"},"encoding":{"x":{"field":"g1","type":"nominal","bandPosition":0.263},"x2":{"field":"g2","bandPosition":0.24},"y":{"field":"y","type":"quantitative"}}},
{"data":{"name":"brackets"},"transform":[{"filter":"datum.panel=='h' && datum.type=='A'"}],"mark":{"type":"tick","orient":"vertical","size":13,"thickness":1.8,"color":"#000000"},"encoding":{"x":{"field":"g1","type":"nominal","bandPosition":0.263},"y":{"field":"y","type":"quantitative"}}},
{"data":{"name":"brackets"},"transform":[{"filter":"datum.panel=='h' && datum.type=='A'"}],"mark":{"type":"tick","orient":"vertical","size":13,"thickness":1.8,"color":"#000000"},"encoding":{"x":{"field":"g2","type":"nominal","bandPosition":0.24},"y":{"field":"y","type":"quantitative"}}},
{"data":{"name":"brackets"},"transform":[{"filter":"datum.panel=='h' && datum.type=='A'"}],"mark":{"type":"text","fontSize":15,"fontWeight":"bold","baseline":"alphabetic","dy":0},"encoding":{"x":{"field":"g1","type":"nominal","bandPosition":0.888},"y":{"field":"y","type":"quantitative"},"text":{"field":"label"}}},
{"data":{"name":"brackets"},"transform":[{"filter":"datum.panel=='h' && datum.type=='B'"}],"mark":{"type":"rule","strokeWidth":1.8,"color":"#000000"},"encoding":{"x":{"field":"g1","type":"nominal","bandPosition":0.286},"x2":{"field":"g2","bandPosition":0.737},"y":{"field":"y","type":"quantitative"}}},
{"data":{"name":"brackets"},"transform":[{"filter":"datum.panel=='h' && datum.type=='B'"}],"mark":{"type":"tick","orient":"vertical","size":13,"thickness":1.8,"color":"#000000"},"encoding":{"x":{"field":"g1","type":"nominal","bandPosition":0.286},"y":{"field":"y","type":"quantitative"}}},
{"data":{"name":"brackets"},"transform":[{"filter":"datum.panel=='h' && datum.type=='B'"}],"mark":{"type":"tick","orient":"vertical","size":13,"thickness":1.8,"color":"#000000"},"encoding":{"x":{"field":"g2","type":"nominal","bandPosition":0.737},"y":{"field":"y","type":"quantitative"}}},
{"data":{"name":"brackets"},"transform":[{"filter":"datum.panel=='h' && datum.type=='B'"}],"mark":{"type":"text","fontSize":15,"fontWeight":"bold","baseline":"alphabetic","dy":0},"encoding":{"x":{"field":"g1","type":"nominal","bandPosition":0.5},"y":{"field":"y","type":"quantitative"},"text":{"field":"label"}}}
]
}
],
"config": {
"font": "Liberation Sans",
"view": {"stroke": null},
"mark": {"color": "#000000"},
"title": {"fontWeight": "bold", "color": "#000000", "font": "Liberation Sans"},
"axis": {"domainColor": "#000000", "domainWidth": 1.6, "tickColor": "#000000", "tickWidth": 1.6, "labelColor": "#000000", "labelFont": "Liberation Sans", "labelFontWeight": "bold", "titleFont": "Liberation Sans", "titleFontWeight": "bold", "titleColor": "#000000", "grid": false},
"axisX": {"labels": false, "tickSize": 5, "titleFontSize": 14},
"axisY": {"labelFontSize": 11, "tickSize": 7, "labelPadding": 3, "titleFontSize": 13, "titlePadding": 5, "labelOverlap": false},
"legend": {"orient": "none", "legendX": 530, "legendY": -53, "symbolType": "M-1,-0.3H1V0.3H-1Z", "symbolSize": 196, "symbolStrokeWidth": 0, "labelFont": "Liberation Sans", "labelFontSize": 11, "labelFontWeight": "bold", "labelColor": "#000000", "rowPadding": 4, "labelOffset": 10, "padding": 0}
}
}
